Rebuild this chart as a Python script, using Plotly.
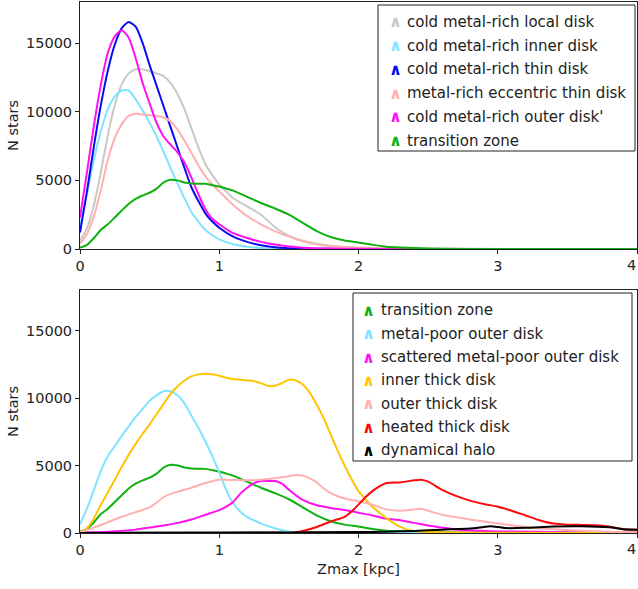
import plotly.graph_objects as go

# ---------------- data: top panel ----------------
local_x = [0, 0.05, 0.1, 0.15, 0.2, 0.25, 0.3, 0.35, 0.4, 0.45, 0.5, 0.55, 0.6, 0.65, 0.7, 0.75, 0.8, 0.85, 0.9, 0.95, 1.0, 1.05, 1.1, 1.2, 1.3, 1.4, 1.5, 1.6, 1.7, 1.8, 1.9, 2.0, 2.2, 2.5, 4.0]
local_y = [600, 1500, 3200, 5600, 8300, 10500, 12000, 12800, 13100, 13100, 12950, 12800, 12600, 12100, 11300, 10200, 8800, 7400, 6200, 5400, 4700, 4200, 3700, 3100, 2500, 1600, 950, 600, 380, 240, 150, 100, 40, 10, 0]

inner_x = [0, 0.05, 0.1, 0.15, 0.2, 0.25, 0.3, 0.35, 0.4, 0.45, 0.5, 0.55, 0.6, 0.65, 0.7, 0.75, 0.8, 0.85, 0.9, 0.95, 1.0, 1.1, 1.2, 1.3, 1.4, 1.5, 1.7, 4.0]
inner_y = [1700, 4000, 6500, 8600, 10200, 11100, 11550, 11550, 10900, 10100, 9200, 8200, 7100, 5900, 4800, 3700, 2700, 2000, 1400, 1000, 700, 350, 170, 80, 30, 10, 0, 0]

thin_x = [0, 0.05, 0.1, 0.15, 0.2, 0.25, 0.3, 0.35, 0.4, 0.45, 0.5, 0.55, 0.6, 0.65, 0.7, 0.75, 0.8, 0.85, 0.9, 0.95, 1.0, 1.1, 1.2, 1.3, 1.4, 1.5, 1.6, 1.8, 2.0, 4.0]
thin_y = [1200, 4200, 7500, 10500, 13000, 14900, 16100, 16550, 16200, 15000, 13400, 11900, 10400, 8900, 7400, 5900, 4500, 3500, 2600, 2000, 1550, 900, 520, 270, 130, 60, 30, 10, 0, 0]

ecc_x = [0, 0.05, 0.1, 0.15, 0.2, 0.25, 0.3, 0.35, 0.4, 0.45, 0.5, 0.55, 0.6, 0.65, 0.7, 0.75, 0.8, 0.85, 0.9, 0.95, 1.0, 1.05, 1.1, 1.2, 1.3, 1.4, 1.5, 1.6, 1.7, 1.8, 1.9, 2.0, 2.2, 2.5, 4.0]
ecc_y = [400, 1100, 2400, 4300, 6500, 8100, 9100, 9700, 9850, 9800, 9750, 9700, 9600, 9300, 8700, 7900, 7000, 6100, 5300, 4700, 4200, 3700, 3200, 2400, 1800, 1300, 900, 560, 350, 220, 140, 90, 40, 10, 0]

outer_x = [0, 0.05, 0.1, 0.15, 0.2, 0.25, 0.3, 0.35, 0.4, 0.45, 0.5, 0.55, 0.6, 0.65, 0.7, 0.75, 0.8, 0.85, 0.9, 0.95, 1.0, 1.1, 1.2, 1.3, 1.4, 1.5, 1.6, 1.8, 2.0, 2.4, 4.0]
outer_y = [2300, 5600, 9000, 12000, 14300, 15500, 15950, 15400, 13900, 12100, 10600, 9200, 8200, 7600, 7050, 6300, 5200, 4000, 2900, 2200, 1800, 1150, 800, 520, 320, 180, 100, 40, 15, 0, 0]

trans_x = [0, 0.05, 0.1, 0.15, 0.2, 0.25, 0.3, 0.35, 0.4, 0.45, 0.5, 0.55, 0.6, 0.65, 0.7, 0.75, 0.8, 0.85, 0.9, 0.95, 1.0, 1.05, 1.1, 1.2, 1.3, 1.4, 1.5, 1.6, 1.7, 1.8, 1.9, 2.0, 2.1, 2.2, 2.3, 2.4, 2.6, 3.0, 4.0]
trans_y = [100, 300, 800, 1400, 1800, 2300, 2800, 3300, 3650, 3900, 4100, 4400, 4850, 5050, 5000, 4850, 4780, 4760, 4750, 4650, 4550, 4400, 4250, 3800, 3350, 2950, 2500, 1900, 1300, 870, 620, 480, 300, 170, 110, 70, 20, 5, 0]

# ---------------- data: bottom panel ----------------
mpouter_x = [0, 0.05, 0.1, 0.15, 0.2, 0.25, 0.3, 0.35, 0.4, 0.45, 0.5, 0.55, 0.6, 0.65, 0.7, 0.75, 0.8, 0.85, 0.9, 0.95, 1.0, 1.05, 1.1, 1.15, 1.2, 1.3, 1.4, 1.5, 1.6, 1.7, 4.0]
mpouter_y = [650, 1800, 3200, 4600, 5700, 6450, 7200, 7900, 8600, 9200, 9800, 10200, 10500, 10500, 10200, 9600, 8700, 7800, 6800, 5700, 4500, 3200, 2200, 1600, 1200, 700, 350, 100, 20, 0, 0]

scat_x = [0, 0.2, 0.4, 0.5, 0.6, 0.7, 0.8, 0.9, 1.0, 1.05, 1.1, 1.15, 1.2, 1.25, 1.3, 1.35, 1.4, 1.45, 1.5, 1.55, 1.6, 1.7, 1.8, 1.9, 2.0, 2.1, 2.2, 2.3, 2.4, 2.5, 2.6, 2.7, 2.8, 3.0, 3.5, 4.0]
scat_y = [30, 100, 250, 400, 550, 750, 1000, 1350, 1700, 1950, 2300, 2900, 3350, 3700, 3850, 3850, 3850, 3650, 3200, 2800, 2450, 2050, 1850, 1700, 1500, 1300, 1050, 950, 750, 550, 400, 250, 180, 120, 60, 30]

ithick_x = [0, 0.05, 0.1, 0.15, 0.2, 0.25, 0.3, 0.35, 0.4, 0.45, 0.5, 0.55, 0.6, 0.65, 0.7, 0.75, 0.8, 0.85, 0.9, 0.95, 1.0, 1.05, 1.1, 1.15, 1.2, 1.25, 1.3, 1.35, 1.4, 1.45, 1.5, 1.55, 1.6, 1.65, 1.7, 1.75, 1.8, 1.85, 1.9, 1.95, 2.0, 2.05, 2.1, 2.15, 2.2, 2.25, 2.3, 2.35, 2.4, 2.5, 2.7, 3.0, 4.0]
ithick_y = [50, 350, 1100, 2100, 3000, 3950, 4900, 5800, 6600, 7350, 8050, 8800, 9550, 10300, 10850, 11300, 11600, 11750, 11800, 11750, 11650, 11500, 11400, 11350, 11300, 11250, 11100, 10900, 10900, 11100, 11350, 11300, 11000, 10400, 9500, 8500, 7300, 6100, 5000, 4000, 3100, 2500, 1950, 1500, 1100, 750, 450, 250, 150, 80, 40, 20, 0]

othick_x = [0, 0.1, 0.2, 0.3, 0.4, 0.5, 0.55, 0.6, 0.65, 0.7, 0.8, 0.9, 1.0, 1.1, 1.2, 1.3, 1.4, 1.5, 1.55, 1.6, 1.65, 1.7, 1.75, 1.8, 1.9, 2.0, 2.1, 2.2, 2.3, 2.4, 2.45, 2.5, 2.6, 2.8, 3.0, 3.2, 3.4, 3.6, 3.8, 4.0]
othick_y = [50, 400, 800, 1200, 1550, 1900, 2250, 2650, 2900, 3050, 3350, 3700, 3950, 3920, 3900, 3950, 4050, 4200, 4300, 4250, 4050, 3750, 3300, 2950, 2550, 2350, 2100, 1750, 1650, 1750, 1800, 1650, 1350, 1000, 700, 450, 280, 170, 100, 50]

heated_x = [0, 1.5, 1.55, 1.6, 1.7, 1.8, 1.9, 1.95, 2.0, 2.05, 2.1, 2.15, 2.2, 2.3, 2.4, 2.45, 2.5, 2.6, 2.7, 2.8, 2.9, 3.0, 3.1, 3.2, 3.3, 3.4, 3.5, 3.6, 3.7, 3.8, 3.9, 4.0]
heated_y = [0, 0, 50, 150, 450, 850, 1200, 1600, 2100, 2650, 3100, 3450, 3700, 3750, 3900, 3950, 3800, 3200, 2750, 2400, 2150, 1950, 1650, 1300, 950, 700, 620, 600, 580, 480, 280, 250]

halo_x = [0, 1.0, 1.5, 2.0, 2.2, 2.4, 2.6, 2.8, 2.9, 2.95, 3.05, 3.2, 3.4, 3.6, 3.8, 3.9, 4.0]
halo_y = [0, 20, 40, 70, 100, 150, 250, 330, 450, 500, 370, 380, 480, 500, 420, 280, 250]

# faint components hugging zero
minor1_x = [0, 0.75, 0.8, 1.0, 1.45, 1.5, 4.0]
minor1_y = [0, 0, 40, 40, 40, 0, 0]
minor2_x = [0, 1.5, 1.55, 1.7, 1.8, 4.0]
minor2_y = [0, 0, 30, 30, 0, 0]
minor3_x = [0, 1.8, 2.0, 2.3, 2.5, 4.0]
minor3_y = [0, 0, 30, 30, 0, 0]

y_tickvals = [0, 5000, 10000, 15000]
y_ticktext = ["0", "5000", "10000", "15000"]
x_tickvals = [0, 1, 2, 3, 4]
x_ticktext = ["0", "1", "2", "3", ""]   # the last label ("4") is placed flush with the right edge below
x_last_label = "4"

top_names = ["cold metal-rich local disk", "cold metal-rich inner disk", "cold metal-rich thin disk",
             "metal-rich eccentric thin disk", "cold metal-rich outer disk'", "transition zone"]
top_colors = ["#c8c8c8", "#80e4ff", "#0a0af0", "#ffb0b0", "#ff10f0", "#10b010"]
top_data = [(local_x, local_y), (inner_x, inner_y), (thin_x, thin_y),
            (ecc_x, ecc_y), (outer_x, outer_y), (trans_x, trans_y)]

bot_names = ["transition zone", "metal-poor outer disk", "scattered metal-poor outer disk",
             "inner thick disk", "outer thick disk", "heated thick disk", "dynamical halo"]
bot_colors = ["#10b010", "#80e4ff", "#ff10f0", "#ffc400", "#ffb0b0", "#ff0a0a", "#000000"]
bot_data = [(trans_x, trans_y), (mpouter_x, mpouter_y), (scat_x, scat_y),
            (ithick_x, ithick_y), (othick_x, othick_y), (heated_x, heated_y), (halo_x, halo_y)]
minor_colors = ["#8b0000", "#a8a8a8", "#4a8a9a"]
minor_data = [(minor1_x, minor1_y), (minor2_x, minor2_y), (minor3_x, minor3_y)]

# ---------------- figure ----------------
W, H = 638, 589
ML, MR, MT, MB = 80, 1, 2, 56
PW, PH = W - ML - MR, H - MT - MB

def pp(px, py):
    return (px - ML) / PW, (H - MB - py) / PH

fig = go.Figure()
for (xs, ys), c, n in zip(top_data, top_colors, top_names):
    fig.add_trace(go.Scatter(x=xs, y=ys, mode="lines", name=n,
                             line=dict(color=c, width=2, shape="spline", smoothing=0.6),
                             xaxis="x", yaxis="y", showlegend=False))
for (xs, ys), c in zip(minor_data, minor_colors):
    fig.add_trace(go.Scatter(x=xs, y=ys, mode="lines", line=dict(color=c, width=2.5),
                             xaxis="x2", yaxis="y2", showlegend=False, hoverinfo="skip"))
for (xs, ys), c, n in zip(bot_data, bot_colors, bot_names):
    fig.add_trace(go.Scatter(x=xs, y=ys, mode="lines", name=n,
                             line=dict(color=c, width=2, shape="spline", smoothing=0.6),
                             xaxis="x2", yaxis="y2", showlegend=False))

TICK_SIZE = 14.5
tickfont = dict(family="DejaVu Sans", size=TICK_SIZE, color="#222222")
axis_common = dict(showline=True, mirror=True, linecolor="#222222", linewidth=1,
                   ticks="outside", ticklen=4, tickcolor="#222222", tickfont=tickfont,
                   showgrid=False, zeroline=False, automargin=False)

_, top_bottom = pp(0, 249)
_, bot_top = pp(0, 290)

fig.update_layout(
    width=W, height=H,
    margin=dict(l=ML, r=MR, t=MT, b=MB),
    paper_bgcolor="white", plot_bgcolor="white",
    font=dict(family="DejaVu Sans", color="#222222"),
    xaxis=dict(domain=[0, 1], range=[0, 4], tickvals=x_tickvals, ticktext=x_ticktext,
               anchor="y", **axis_common),
    yaxis=dict(domain=[top_bottom, 1], range=[0, 18000], tickvals=y_tickvals, ticktext=y_ticktext,
               anchor="x", title=dict(text="N stars", font=dict(size=TICK_SIZE), standoff=3), **axis_common),
    xaxis2=dict(domain=[0, 1], range=[0, 4], tickvals=x_tickvals, ticktext=x_ticktext, anchor="y2",
                title=dict(text="Zmax [kpc]", font=dict(size=TICK_SIZE), standoff=6), **axis_common),
    yaxis2=dict(domain=[0, bot_top], range=[0, 18000], tickvals=y_tickvals, ticktext=y_ticktext,
                anchor="x2", title=dict(text="N stars", font=dict(size=TICK_SIZE), standoff=3), **axis_common),
)

# last x tick label of each panel, kept inside the page
for yref_axis, dom_y in (("y domain", 0.0), ("y2 domain", 0.0)):
    fig.add_annotation(xref="paper", yref=yref_axis, x=1.0 + 1.0 / PW, y=dom_y, yshift=-6,
                       text=x_last_label, showarrow=False, xanchor="right", yanchor="top",
                       font=tickfont)

# ---------------- legends (drawn as boxes + text) ----------------
def add_legend(box, entries_y, chev_x, text_x, names, colors):
    x0, y0 = pp(box[0], box[1])
    x1, y1 = pp(box[2], box[3])
    fig.add_shape(type="rect", xref="paper", yref="paper", x0=x0, y0=y1, x1=x1, y1=y0,
                  line=dict(color="#222222", width=1), fillcolor="white", layer="above")
    for ey, n, c in zip(entries_y, names, colors):
        cx, cy = pp(chev_x, ey)
        fig.add_annotation(xref="paper", yref="paper", x=cx, y=cy, text="<b>∧</b>",
                           showarrow=False, xanchor="center", yanchor="middle",
                           font=dict(family="DejaVu Sans", size=16, color=c))
        tx, ty = pp(text_x, ey)
        fig.add_annotation(xref="paper", yref="paper", x=tx, y=ty, text=n,
                           showarrow=False, xanchor="left", yanchor="middle",
                           font=dict(family="DejaVu Sans", size=15, color="#222222"))

add_legend((378, 5, 635, 151), [22, 45.7, 69.3, 93.3, 116.7, 140.7], 395, 405, top_names, top_colors)
add_legend((353, 293, 632, 461), [310, 333.7, 357, 380, 403.7, 427, 450.3], 368, 379, bot_names, bot_colors)

fig.write_html("out.html")
